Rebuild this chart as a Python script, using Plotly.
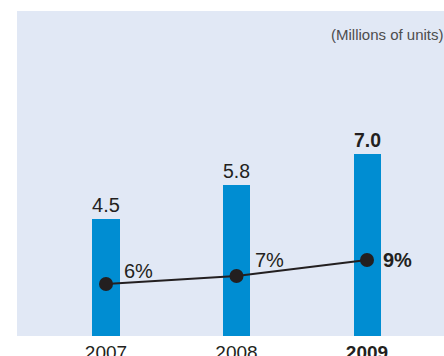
import plotly.graph_objects as go

# Data
years = ["2007", "2008", "2009"]
units = [4.5, 5.8, 7.0]            # millions of units
unit_labels = ["4.5", "5.8", "<b>7.0</b>"]
share = [6, 7, 9]                  # percent
share_labels = ["6%", "7%", "<b>9%</b>"]
tick_labels = ["2007", "2008", "<b>2009</b>"]

FONT = "Liberation Sans, Arial, Helvetica, sans-serif"
BAR_BLUE = "#008dd2"
INK = "#231f20"
BG = "#e1e8f5"

fig = go.Figure()

fig.add_trace(go.Bar(
    x=years, y=units, width=0.207,
    marker=dict(color=BAR_BLUE, line=dict(width=0)),
    text=unit_labels, textposition="outside", cliponaxis=False,
    textfont=dict(family=FONT, size=20, color=INK),
    hoverinfo="skip",
))

fig.add_trace(go.Scatter(
    x=years, y=share, yaxis="y2", mode="lines+markers",
    line=dict(color=INK, width=2),
    marker=dict(color=INK, size=14),
    cliponaxis=False, hoverinfo="skip",
))

# Percentage labels beside the markers (category index on the x axis)
shifts = [(16, 13), (16, 16), (14, 0)]
for i, (v, lab, (dx, dy)) in enumerate(zip(share, share_labels, shifts)):
    fig.add_annotation(
        x=i, y=v, xref="x", yref="y2", text=lab, showarrow=False,
        xanchor="left", yanchor="middle", xshift=dx, yshift=dy,
        font=dict(family=FONT, size=20, color=INK),
    )

fig.add_annotation(
    x=1, y=1, xref="paper", yref="paper", text="(Millions of units)",
    showarrow=False, xanchor="right", yanchor="top", yshift=-13, xshift=2,
    font=dict(family=FONT, size=15, color="#4d4d4d"),
)

fig.update_layout(
    width=444, height=356,
    margin=dict(l=17, r=0, t=11, b=20, autoexpand=False),
    paper_bgcolor="white", plot_bgcolor=BG,
    showlegend=False,
    bargap=0,
    xaxis=dict(
        type="category", range=[-0.682, 2.59], automargin=False,
        tickmode="array", tickvals=years, ticktext=tick_labels,
        tickfont=dict(family=FONT, size=19, color=INK),
        ticklabelstandoff=3,
        showgrid=False, zeroline=False, showline=False, ticks="",
    ),
    yaxis=dict(range=[0, 12.5], visible=False, showgrid=False, zeroline=False),
    yaxis2=dict(range=[-0.5, 40.1], overlaying="y", visible=False,
                showgrid=False, zeroline=False),
)

fig.write_html("out.html")
